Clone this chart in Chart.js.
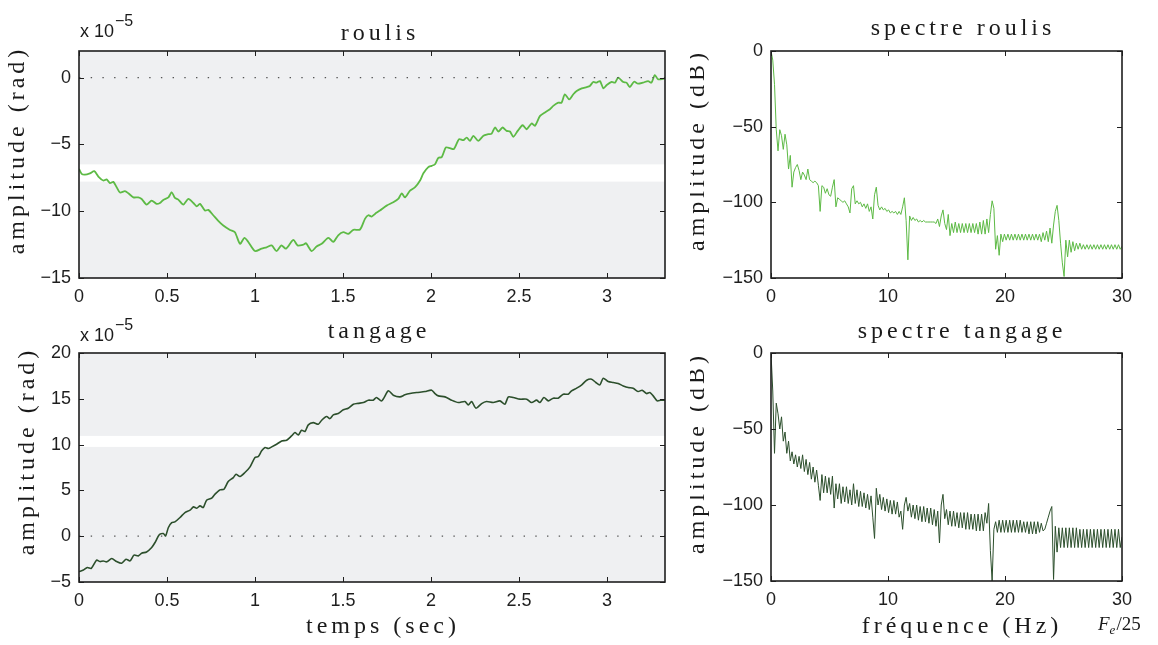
<!DOCTYPE html>
<html>
<head>
<meta charset="utf-8">
<script src="https://cdn.jsdelivr.net/npm/chart.js@4.4.0/dist/chart.umd.min.js"></script>
<style>
html, body { margin: 0; padding: 0; background: #fff; }
#page { position: relative; width: 1158px; height: 645px; overflow: hidden; }
canvas { position: absolute; }
</style>
</head>
<body>
<div id="page">
  <canvas id="roulisChart" width="690" height="305" style="left:0px;top:0px"></canvas>
  <canvas id="tangageChart" width="690" height="340" style="left:0px;top:305px"></canvas>
  <canvas id="specRoulisChart" width="468" height="305" style="left:690px;top:0px"></canvas>
  <canvas id="specTangageChart" width="468" height="340" style="left:690px;top:305px"></canvas>
</div>
<script>
//roulis, time signal (x 10^-5 rad)
var rollTime = [
  0, 0.015, 0.034, 0.062, 0.087, 0.11, 0.138, 0.157, 0.176, 0.195,
  0.214, 0.233, 0.261, 0.28, 0.309, 0.337, 0.356, 0.384, 0.413, 0.441,
  0.46, 0.479, 0.508, 0.527, 0.545, 0.564, 0.593, 0.621, 0.65, 0.669,
  0.688, 0.716, 0.735, 0.763, 0.79, 0.82, 0.858, 0.886, 0.915, 0.94,
  0.962, 1.0, 1.038, 1.066, 1.095, 1.123, 1.15, 1.176, 1.218, 1.242,
  1.275, 1.29, 1.322, 1.35, 1.379, 1.417, 1.445, 1.473, 1.502, 1.53,
  1.559, 1.597, 1.625, 1.644, 1.663, 1.682, 1.71, 1.748, 1.786, 1.814,
  1.834, 1.852, 1.881, 1.91, 1.938, 1.957, 1.985, 2.004, 2.023, 2.042,
  2.061, 2.085, 2.108, 2.13, 2.16, 2.184, 2.203, 2.222, 2.241, 2.269,
  2.298, 2.326, 2.345, 2.364, 2.383, 2.407, 2.43, 2.449, 2.468, 2.493,
  2.521, 2.544, 2.572, 2.591, 2.62, 2.648, 2.676, 2.695, 2.724, 2.742,
  2.761, 2.786, 2.809, 2.828, 2.857, 2.885, 2.903, 2.922, 2.941, 2.96,
  2.98, 2.999, 3.027, 3.046, 3.064, 3.093, 3.111, 3.13, 3.154, 3.177,
  3.205, 3.234, 3.253, 3.272, 3.291, 3.33
];
var rollValues = [
  -6.84, -7.2, -7.26, -7.16, -7.0, -7.4, -7.7, -7.62, -7.9, -7.8,
  -8.2, -8.6, -8.5, -8.65, -8.96, -8.96, -9.08, -9.5, -9.2, -9.45,
  -9.38, -9.15, -8.96, -8.58, -9.0, -9.13, -9.5, -9.08, -9.38, -9.63,
  -9.45, -9.95, -9.9, -10.3, -10.7, -11.07, -11.4, -11.57, -12.44, -12.0,
  -12.3, -12.98, -12.8, -12.7, -12.56, -12.99, -12.56, -12.8, -12.14, -12.56,
  -12.5, -12.4, -12.98, -12.64, -12.44, -11.99, -12.3, -11.8, -11.57, -11.7,
  -11.39, -11.37, -10.57, -10.3, -10.4, -10.2, -9.95, -9.58, -9.33, -9.08,
  -8.66, -8.96, -8.46, -8.2, -7.7, -7.16, -6.7, -6.6, -6.48, -6.0,
  -5.95, -5.22, -5.27, -5.35, -4.6, -4.68, -4.48, -4.73, -4.35, -4.73,
  -4.35, -4.23, -4.18, -3.73, -4.03, -3.73, -3.98, -4.03, -4.43, -3.98,
  -3.56, -3.86, -3.43, -3.6, -2.86, -2.6, -2.36, -2.11, -1.87, -1.87,
  -1.24, -1.62, -1.24, -1.0, -0.8, -0.7, -0.62, -0.32, -0.37, -0.25,
  -0.8, -0.55, -0.32, -0.37, 0, -0.32, -0.37, -0.7, -0.3, -0.45,
  -0.37, -0.25, -0.37, 0.2, -0.12, -0.05
];

//tangage, time signal (x 10^-5 rad)
var pitchTime = [
  0, 0.025, 0.047, 0.07, 0.1, 0.119, 0.138, 0.157, 0.186, 0.214,
  0.242, 0.267, 0.29, 0.3125, 0.337, 0.356, 0.384, 0.413, 0.432, 0.456,
  0.479, 0.492, 0.508, 0.527, 0.545, 0.574, 0.602, 0.631, 0.65, 0.669,
  0.688, 0.706, 0.725, 0.754, 0.773, 0.801, 0.824, 0.848, 0.877, 0.892,
  0.915, 0.943, 0.972, 1.0, 1.019, 1.038, 1.057, 1.076, 1.095, 1.123,
  1.152, 1.18, 1.208, 1.227, 1.246, 1.265, 1.284, 1.303, 1.331, 1.36,
  1.379, 1.407, 1.426, 1.445, 1.473, 1.502, 1.53, 1.559, 1.587, 1.616,
  1.644, 1.672, 1.69, 1.72, 1.758, 1.786, 1.824, 1.852, 1.881, 1.919,
  1.966, 2.004, 2.023, 2.042, 2.08, 2.117, 2.155, 2.193, 2.212, 2.231,
  2.256, 2.288, 2.316, 2.354, 2.392, 2.42, 2.44, 2.468, 2.506, 2.544,
  2.572, 2.6, 2.619, 2.642, 2.667, 2.695, 2.723, 2.752, 2.78, 2.799,
  2.828, 2.857, 2.885, 2.913, 2.937, 2.96, 2.979, 3.007, 3.036, 3.064,
  3.093, 3.121, 3.149, 3.177, 3.2, 3.225, 3.244, 3.263, 3.286, 3.305,
  3.33
];
var pitchValues = [
  -3.86, -3.7, -3.42, -3.5, -2.62, -2.77, -2.7, -2.8, -2.44, -2.77,
  -2.95, -2.51, -2.69, -2.07, -2.15, -1.86, -1.72, -1.24, -0.69, 0.15,
  0.29, 0.03, 0.95, 1.49, 1.56, 2.04, 2.58, 2.84, 3.2, 3.06,
  3.31, 3.13, 3.93, 4.15, 4.59, 5.06, 5.13, 5.97, 6.4, 6.77,
  6.51, 6.95, 7.57, 8.59, 8.7, 9.32, 9.68, 9.57, 9.75, 10.04,
  10.4, 10.48, 10.95, 11.32, 11.06, 11.57, 11.43, 12.15, 12.4, 12.22,
  12.66, 13.06, 12.84, 13.25, 13.39, 13.8, 13.97, 14.4, 14.5, 14.59,
  14.85, 14.85, 15.14, 14.77, 15.87, 15.39, 15.21, 15.43, 15.57, 15.68,
  15.79, 15.94, 15.57, 15.32, 15.21, 14.85, 14.59, 14.7, 14.34, 14.7,
  13.97, 14.48, 14.7, 14.59, 14.77, 14.41, 15.21, 15.14, 14.96, 14.96,
  14.59, 14.85, 14.59, 15.14, 14.77, 15.07, 15.07, 15.5, 15.5, 15.87,
  16.16, 16.52, 17.03, 17.14, 16.78, 16.52, 17.25, 16.88, 16.78, 16.67,
  16.41, 16.23, 16.16, 15.79, 15.94, 15.57, 15.68, 15.32, 14.77, 14.85,
  14.85
];

//spectra in dB, one value every 0.15 Hz from 0 to 30 Hz
var freqStep = 0.15;
var specRoulis = [
  0, -6, -22, -52, -66, -52, -56, -65, -55, -62,
  -78, -69, -90, -80, -77, -75, -79, -85, -80, -82,
  -85, -78, -85, -86, -87, -86, -87, -89, -106, -89,
  -90, -94, -91, -95, -96, -90, -85, -103, -97, -98,
  -99, -100, -99, -101, -103, -107, -91, -89, -101, -99,
  -101, -100, -103, -101, -104, -101, -106, -103, -111, -95,
  -90, -102, -105, -103, -105, -104, -106, -105, -107, -106,
  -107, -106, -108, -106, -108, -103, -97, -112, -138, -109,
  -112, -110, -112, -111, -113, -112, -113, -112, -113, -113,
  -113, -113, -113, -113, -114, -111, -116, -109, -105, -114,
  -118, -108, -122, -114, -120, -113, -120, -114, -120, -114,
  -120, -114, -120, -114, -120, -114, -120, -114, -121, -113,
  -121, -112, -121, -111, -120, -108, -99, -104, -131, -122,
  -135, -121, -126, -121, -125, -121, -125, -121, -125, -121,
  -125, -121, -125, -121, -125, -121, -125, -121, -125, -121,
  -125, -121, -125, -121, -126, -120, -125, -119, -126, -117,
  -127, -115, -106, -102, -112, -127, -140, -149, -125, -136,
  -125, -133, -126, -132, -127, -131, -127, -131, -128, -131,
  -128, -131, -128, -131, -128, -131, -128, -131, -128, -131,
  -128, -131, -128, -131, -128, -131, -128, -131, -128, -131,
  -129
];
var specTangage = [
  0, -25, -66, -33, -40, -50, -42, -58, -52, -66,
  -58, -71, -65, -73, -67, -75, -68, -76, -67, -78,
  -70, -80, -72, -83, -75, -85, -77, -87, -97, -80,
  -92, -81, -92, -82, -93, -81, -102, -86, -96, -86,
  -99, -88, -98, -88, -99, -90, -100, -86, -99, -90,
  -101, -91, -101, -92, -102, -93, -103, -94, -108, -122,
  -89, -100, -93, -103, -95, -104, -96, -105, -97, -106,
  -97, -106, -98, -108, -104, -116, -100, -95, -104, -99,
  -108, -100, -109, -100, -110, -101, -111, -101, -111, -102,
  -112, -102, -113, -103, -114, -104, -125, -100, -93, -109,
  -103, -113, -104, -114, -104, -114, -105, -115, -105, -115,
  -105, -116, -105, -116, -106, -116, -106, -117, -106, -117,
  -106, -117, -105, -112, -99, -130, -150, -116, -111, -118,
  -110, -118, -110, -118, -110, -118, -110, -118, -110, -118,
  -110, -118, -110, -118, -111, -118, -111, -119, -111, -119,
  -111, -119, -111, -118, -112, -117, -116, -112, -108, -104,
  -101, -149, -114, -131, -115, -128, -115, -128, -115, -128,
  -115, -128, -115, -128, -115, -128, -116, -128, -116, -128,
  -116, -128, -116, -128, -116, -128, -116, -128, -116, -128,
  -116, -128, -116, -128, -116, -128, -116, -128, -116, -128,
  -121
];

//tick labels
var timeTicks = [0, 0.5, 1, 1.5, 2, 2.5, 3];
var rollTicks = [-15, -10, -5, 0];
var pitchTicks = [-5, 0, 5, 10, 15, 20];
var freqTicks = [0, 10, 20, 30];
var dbTicks = [-150, -100, -50, 0];

var roulisColor = "#5dba45";
var tangageColor = "#2c4f2c";
var serif = "'Liberation Serif', 'Times New Roman', serif";
var sans = "'Liberation Sans', Arial, sans-serif";

Chart.defaults.font.family = sans;
Chart.defaults.font.size = 18;
Chart.defaults.color = "#1e1e1e";

function toPoints(xs, ys){
    var pts = [];
    for(var i = 0; i < ys.length; i++){
        pts.push({x: xs[i], y: ys[i]});
    }
    return pts;
}

function freqAxis(values){
    return values.map((v, i) => +(i * freqStep).toFixed(2));
}

function minusLabel(v){
    return v < 0 ? "\u2212" + Math.abs(v) : String(v);
}

//letter-spaced serif text, centred on x (drawn glyph by glyph)
function spacedText(ctx, text, x, y){
    var gap = 4;
    ctx.font = "24px " + serif;
    ctx.textAlign = "left";
    var chars = Array.from(text);
    var widths = chars.map(c => ctx.measureText(c).width);
    var total = widths.reduce((s, w) => s + w, 0) + gap * (chars.length - 1);
    var cx = x - total / 2;
    for(var i = 0; i < chars.length; i++){
        ctx.fillText(chars[i], cx, y);
        cx += widths[i] + gap;
    }
}

//background, frame, inward ticks and the serif texts
var decorPlugin = {
    id: "decor",
    beforeDraw(chart, args, opts){
        let ctx = chart.ctx;
        let a = chart.chartArea;
        ctx.save();
        ctx.fillStyle = opts.background || "#fff";
        ctx.fillRect(a.left, a.top, a.width, a.height);
        if(opts.band){
            let y = chart.scales.y;
            let top = y.getPixelForValue(opts.band[1]);
            let bottom = y.getPixelForValue(opts.band[0]);
            ctx.fillStyle = "#fff";
            ctx.fillRect(a.left, top, a.width, bottom - top);
        }
        ctx.restore();
    },
    afterDraw(chart, args, opts){
        let ctx = chart.ctx;
        let a = chart.chartArea;
        let xs = chart.scales.x;
        let ys = chart.scales.y;
        ctx.save();
        ctx.strokeStyle = "#1e1e1e";
        ctx.lineWidth = 1;
        ctx.beginPath();
        xs.ticks.forEach(t => {
            let px = Math.round(xs.getPixelForValue(t.value)) + 0.5;
            ctx.moveTo(px, a.bottom); ctx.lineTo(px, a.bottom - 5);
            ctx.moveTo(px, a.top); ctx.lineTo(px, a.top + 5);
        });
        ys.ticks.forEach(t => {
            let py = Math.round(ys.getPixelForValue(t.value)) + 0.5;
            ctx.moveTo(a.left, py); ctx.lineTo(a.left + 5, py);
            ctx.moveTo(a.right, py); ctx.lineTo(a.right - 5, py);
        });
        ctx.stroke();
        ctx.lineWidth = 1.6;
        ctx.strokeRect(a.left, a.top, a.width, a.height);

        ctx.fillStyle = "#1a1a1a";
        ctx.textBaseline = "alphabetic";
        if(opts.title){
            spacedText(ctx, opts.title.text, opts.title.x, opts.title.y);
        }
        if(opts.xTitle){
            spacedText(ctx, opts.xTitle.text, opts.xTitle.x, opts.xTitle.y);
        }
        if(opts.yTitle){
            ctx.save();
            ctx.translate(opts.yTitle.x, opts.yTitle.y);
            ctx.rotate(-Math.PI / 2);
            spacedText(ctx, opts.yTitle.text, 0, 0);
            ctx.restore();
        }
        ctx.textAlign = "left";
        if(opts.exponent){
            ctx.font = "18px " + sans;
            ctx.fillText("x 10", opts.exponent.x, opts.exponent.y);
            ctx.font = "16px " + sans;
            ctx.fillText("\u22125", opts.exponent.x + 35, opts.exponent.y - 11);
        }
        if(opts.note){
            let x = opts.note.x;
            ctx.font = "italic 19px " + serif;
            ctx.fillText("F", x, opts.note.y);
            x += ctx.measureText("F").width;
            ctx.font = "italic 13px " + serif;
            ctx.fillText("e", x, opts.note.y + 4);
            x += ctx.measureText("e").width + 1;
            ctx.font = "19px " + serif;
            ctx.fillText("/25", x, opts.note.y);
        }
        ctx.restore();
    }
};

function zeroLine(xMax){
    return {
        data: [{x: 0, y: 0}, {x: xMax, y: 0}],
        borderColor: "#555",
        borderWidth: 1.2,
        borderDash: [1.4, 10.3],
        pointRadius: 0
    };
}

function makeChart(id, cfg){
    return new Chart(document.getElementById(id), {
        type: "line",
        data: {datasets: cfg.datasets},
        options: {
            responsive: false,
            animation: false,
            devicePixelRatio: 1,
            layout: {padding: cfg.padding},
            plugins: {
                legend: {display: false},
                tooltip: {enabled: false},
                decor: cfg.decor
            },
            scales: {
                x: {
                    type: "linear",
                    min: cfg.xMin,
                    max: cfg.xMax,
                    afterBuildTicks: (scale) => { scale.ticks = cfg.xTicks.map(v => ({value: v})); },
                    afterFit: (scale) => { scale.height = cfg.xHeight; },
                    grid: {display: false, drawTicks: false},
                    border: {display: false},
                    ticks: {padding: 8, maxRotation: 0, autoSkip: false, callback: (v) => minusLabel(v)}
                },
                y: {
                    type: "linear",
                    min: cfg.yMin,
                    max: cfg.yMax,
                    afterBuildTicks: (scale) => { scale.ticks = cfg.yTicks.map(v => ({value: v})); },
                    afterFit: (scale) => { scale.width = cfg.yWidth; },
                    grid: {display: false, drawTicks: false},
                    border: {display: false},
                    ticks: {padding: 8, autoSkip: false, callback: (v) => minusLabel(v)}
                }
            }
        },
        plugins: [decorPlugin]
    });
}

var roulisChart = makeChart("roulisChart", {
    padding: {left: 0, right: 25, top: 51, bottom: 0},
    xMin: 0, xMax: 3.33, xTicks: timeTicks, xHeight: 27,
    yMin: -15, yMax: 2, yTicks: rollTicks, yWidth: 79,
    datasets: [
        zeroLine(3.33),
        {data: toPoints(rollTime, rollValues), borderColor: roulisColor, borderWidth: 1.8, pointRadius: 0, tension: 0.25}
    ],
    decor: {
        background: "#eff0f2",
        band: [-7.78, -6.49],
        title: {text: "roulis", x: 378, y: 40},
        yTitle: {text: "amplitude (rad)", x: 24, y: 152},
        exponent: {x: 80, y: 37}
    }
});

var tangageChart = makeChart("tangageChart", {
    padding: {left: 0, right: 25, top: 48, bottom: 0},
    xMin: 0, xMax: 3.33, xTicks: timeTicks, xHeight: 63,
    yMin: -5, yMax: 20, yTicks: pitchTicks, yWidth: 79,
    datasets: [
        zeroLine(3.33),
        {data: toPoints(pitchTime, pitchValues), borderColor: tangageColor, borderWidth: 1.6, pointRadius: 0, tension: 0.25}
    ],
    decor: {
        background: "#eff0f2",
        band: [9.75, 10.95],
        title: {text: "tangage", x: 377, y: 33},
        xTitle: {text: "temps (sec)", x: 381, y: 328},
        yTitle: {text: "amplitude (rad)", x: 34, y: 148},
        exponent: {x: 80, y: 36}
    }
});

var specRoulisChart = makeChart("specRoulisChart", {
    padding: {left: 0, right: 36, top: 51, bottom: 0},
    xMin: 0, xMax: 30, xTicks: freqTicks, xHeight: 27,
    yMin: -150, yMax: 0, yTicks: dbTicks, yWidth: 81,
    datasets: [
        {data: toPoints(freqAxis(specRoulis), specRoulis), borderColor: roulisColor, borderWidth: 1, pointRadius: 0, tension: 0}
    ],
    decor: {
        title: {text: "spectre roulis", x: 271, y: 35},
        yTitle: {text: "amplitude (dB)", x: 14, y: 152}
    }
});

var specTangageChart = makeChart("specTangageChart", {
    padding: {left: 0, right: 36, top: 48, bottom: 0},
    xMin: 0, xMax: 30, xTicks: freqTicks, xHeight: 64,
    yMin: -150, yMax: 0, yTicks: dbTicks, yWidth: 81,
    datasets: [
        {data: toPoints(freqAxis(specTangage), specTangage), borderColor: tangageColor, borderWidth: 1, pointRadius: 0, tension: 0}
    ],
    decor: {
        title: {text: "spectre tangage", x: 270, y: 33},
        xTitle: {text: "fréquence (Hz)", x: 270, y: 328},
        yTitle: {text: "amplitude (dB)", x: 14, y: 150},
        note: {x: 408, y: 325}
    }
});
</script>
</body>
</html>
